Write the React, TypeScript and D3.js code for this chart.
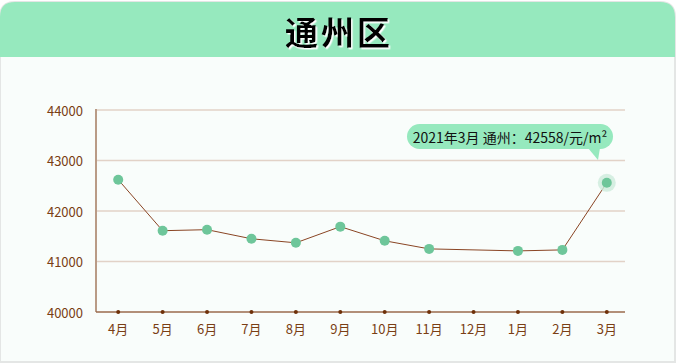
import * as d3 from 'd3'

const months = ['4月', '5月', '6月', '7月', '8月', '9月', '10月', '11月', '12月', '1月', '2月', '3月']
const prices: (number | null)[] = [42620, 41610, 41630, 41450, 41370, 41690, 41410, 41250, null, 41210, 41230, 42558]
const yTicks = [40000, 41000, 42000, 43000, 44000]
const title = '通州区'
const tipLabel = '2021年3月 通州：42558/元/m²'

const W = 678
const H = 364
const FONT = '"Noto Sans CJK SC", "Noto Sans", sans-serif'

export default function App() {
  const x = d3.scaleBand<string>().domain(months).range([96, 629]).padding(0)
  const y = d3.scaleLinear().domain([40000, 44000]).range([312, 110])
  const cx = (m: string) => (x(m) ?? 0) + x.bandwidth() / 2
  const gridRight = 625

  const pts = months
    .map((m, i) => ({ m, v: prices[i] }))
    .filter((d) => d.v !== null) as { m: string; v: number }[]

  const line = d3
    .line<{ m: string; v: number }>()
    .x((d) => cx(d.m))
    .y((d) => y(d.v))

  const last = pts[pts.length - 1]

  // card outline with rounded top corners
  const card = `M0,17 Q0,2 15,2 L660,2 Q675,2 675,17 L675,362 L0,362 Z`
  const header = `M0,17 Q0,2 15,2 L660,2 Q675,2 675,17 L675,57 L0,57 Z`

  // tooltip bubble
  const tipX = 407
  const tipY = 124
  const tipW = 206
  const tipH = 25

  return (
    <svg
      width={W}
      height={H}
      style={{ position: 'absolute', left: 0, top: 0, display: 'block' }}
      fontFamily={FONT}
    >
      <defs>
        <filter id="titleShadow" x="-10%" y="-10%" width="120%" height="130%">
          <feDropShadow dx={1.5} dy={1.5} stdDeviation={0} floodColor="#ffffff" floodOpacity={1} />
        </filter>
      </defs>
      <rect x={0} y={0} width={W} height={H} fill="#ffffff" />
      <path d={card} fill="#f9fdfb" stroke="#e4e6e5" strokeWidth={2} />
      <path d={header} fill="#96e9be" />

      {/* title */}
      <text
        x={339}
        y={31}
        textAnchor="middle"
        dominantBaseline="central"
        fontSize={33}
        fontWeight={700}
        letterSpacing={3}
        fill="#000000"
        filter="url(#titleShadow)"
      >
        {title}
      </text>

      {/* grid */}
      {yTicks.slice(1).map((t) => (
        <line key={t} x1={96} x2={gridRight} y1={y(t)} y2={y(t)} stroke="#e2d2c7" strokeWidth={1.6} />
      ))}
      {yTicks.map((t) => (
        <text
          key={'l' + t}
          x={83}
          y={y(t)}
          textAnchor="end"
          dominantBaseline="central"
          fontSize={13}
          fill="#7a3e14"
        >
          {t}
        </text>
      ))}

      {/* axes */}
      <line x1={96} x2={96} y1={109} y2={312} stroke="#b99b86" strokeWidth={2} />
      <line x1={96} x2={gridRight} y1={312} y2={312} stroke="#9a6a4c" strokeWidth={1.5} />
      {months.map((m) => (
        <g key={m}>
          <circle cx={cx(m)} cy={312} r={2} fill="#6e3008" />
          <text
            x={cx(m)}
            y={328}
            textAnchor="middle"
            dominantBaseline="central"
            fontSize={13}
            fill="#7a3e14"
          >
            {m}
          </text>
        </g>
      ))}

      {/* series */}
      <path d={line(pts) ?? ''} fill="none" stroke="#8a4524" strokeWidth={1} />
      <circle cx={cx(last.m)} cy={y(last.v)} r={9} fill="#cdebdc" opacity={0.8} />
      {pts.map((d) => (
        <circle key={d.m} cx={cx(d.m)} cy={y(d.v)} r={5} fill="#6ec69a" />
      ))}

      {/* tooltip */}
      <path
        d={`M${tipX + tipW - 25},${tipY + tipH - 1} L${tipX + tipW - 13},${tipY + tipH - 1} L${tipX + tipW - 15},${tipY + tipH + 11} Z`}
        fill="#96e9be"
      />
      <rect x={tipX} y={tipY} width={tipW} height={tipH} rx={12.5} fill="#96e9be" />
      <text
        x={tipX + tipW / 2}
        y={tipY + tipH / 2}
        textAnchor="middle"
        dominantBaseline="central"
        fontSize={14}
        fill="#111111"
      >
        {tipLabel}
      </text>
    </svg>
  )
}
